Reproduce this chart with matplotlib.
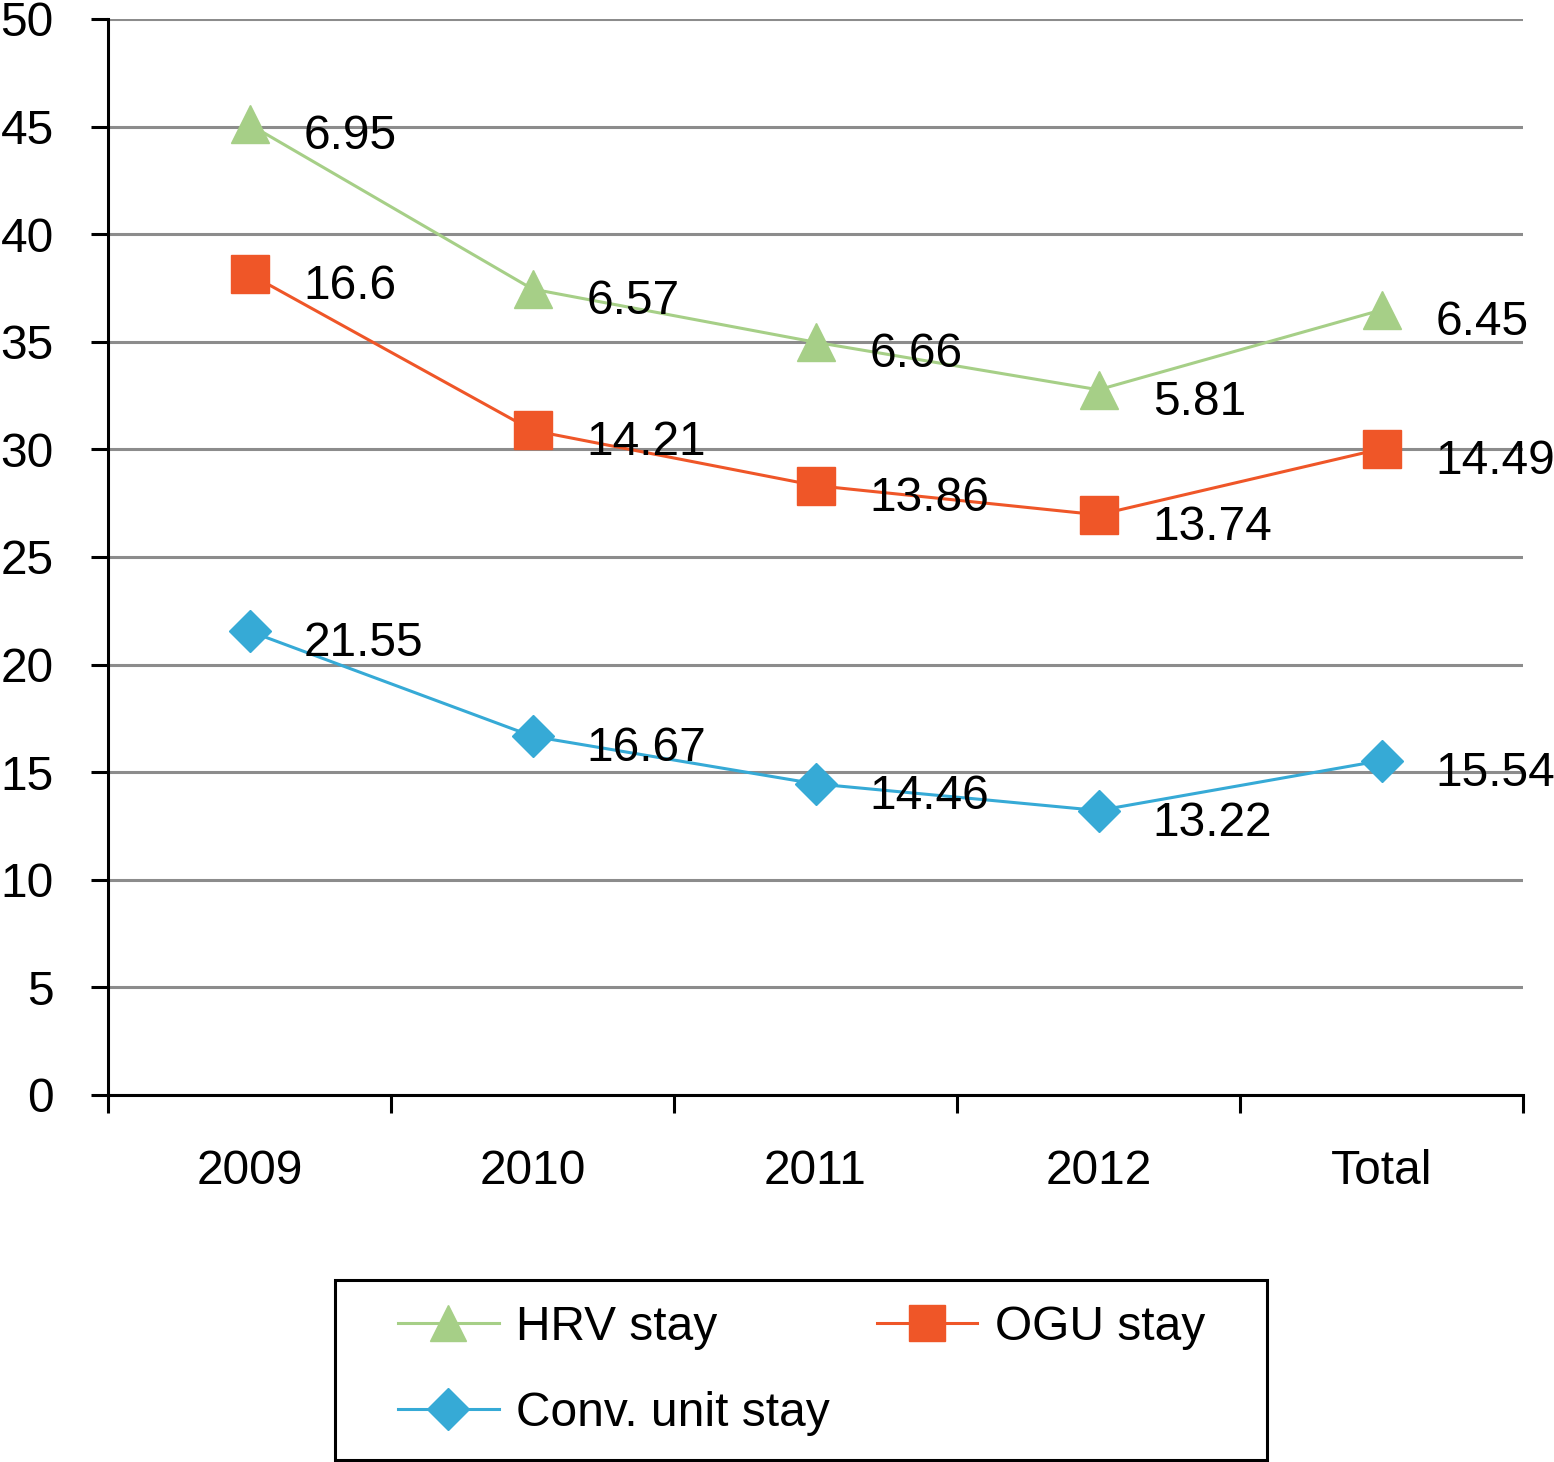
import matplotlib
matplotlib.use("Agg")
import matplotlib.pyplot as plt
from matplotlib.patches import Rectangle
import numpy as np

categories = ["2009", "2010", "2011", "2012", "Total"]
conv = [21.55, 16.67, 14.46, 13.22, 15.54]
ogu = [16.6, 14.21, 13.86, 13.74, 14.49]
hrv = [6.95, 6.57, 6.66, 5.81, 6.45]

plt.rcParams['font.family'] = ['Liberation Sans', 'DejaVu Sans']

c_hrv = "#a6cf87"
c_ogu = "#ef5628"
c_conv = "#36aad6"
FS = 34.5

W, H = 1554, 1462
fig = plt.figure(figsize=(W / 100, H / 100), dpi=100)
ax = fig.add_axes([108 / W, 1 - 1095 / H, (1523 - 108) / W, (1095 - 19) / H])

x = np.arange(len(categories))
s1 = np.array(conv)
s2 = s1 + np.array(ogu)
s3 = s2 + np.array(hrv)

l_hrv, = ax.plot(x, s3, color=c_hrv, lw=2.2, marker="^", ms=27, label="HRV stay", zorder=3)
l_ogu, = ax.plot(x, s2, color=c_ogu, lw=2.2, marker="s", ms=27, label="OGU stay", zorder=3)
l_conv, = ax.plot(x, s1, color=c_conv, lw=2.2, marker="D", ms=21, label="Conv. unit stay", zorder=3)

for yy, vals in [(s3, hrv), (s2, ogu), (s1, conv)]:
    for xi, yi, v in zip(x, yy, vals):
        ax.annotate(f"{v:g}", (xi, yi), xytext=(39, -9), textcoords="offset points",
                    fontsize=FS, va="center", ha="left", zorder=4)

ax.set_xlim(-0.5, 4.5)
ax.set_ylim(0, 50)
ax.set_yticks(np.arange(0, 51, 5))
ax.yaxis.grid(True, color="#8c8c8c", lw=2.2)
ax.set_axisbelow(True)
ax.tick_params(axis="y", labelsize=FS, length=12, width=2.2, pad=27)
ax.set_xticks(x)
ax.set_xticklabels(categories)
ax.set_xticks(np.arange(-0.5, 4.6, 1), minor=True)
ax.tick_params(axis="x", which="major", length=0, labelsize=FS, pad=39)
ax.tick_params(axis="x", which="minor", length=13, width=2.2)
for s in ["top", "right"]:
    ax.spines[s].set_visible(False)
for s in ["left", "bottom"]:
    ax.spines[s].set_linewidth(2.2)

# legend frame
fig.patches.append(Rectangle((335 / W, 1 - 1460 / H), (1267 - 335) / W, (1460 - 1280) / H,
                             transform=fig.transFigure, fill=False, edgecolor="black",
                             lw=2.2, zorder=1))

leg = fig.legend([l_hrv, l_conv, l_ogu], ["HRV stay", "Conv. unit stay", "OGU stay"],
                 ncol=2, loc="upper left", bbox_to_anchor=(398 / W, 1 - 1305 / H),
                 fontsize=FS, frameon=False, borderpad=0, borderaxespad=0,
                 handlelength=2.1, columnspacing=0.97, labelspacing=0.85,
                 handletextpad=0.37)
for h in leg.legend_handles:
    h.set_markersize(26 if h.get_marker() != "D" else 21)

fig.savefig("out.png", dpi=100)
